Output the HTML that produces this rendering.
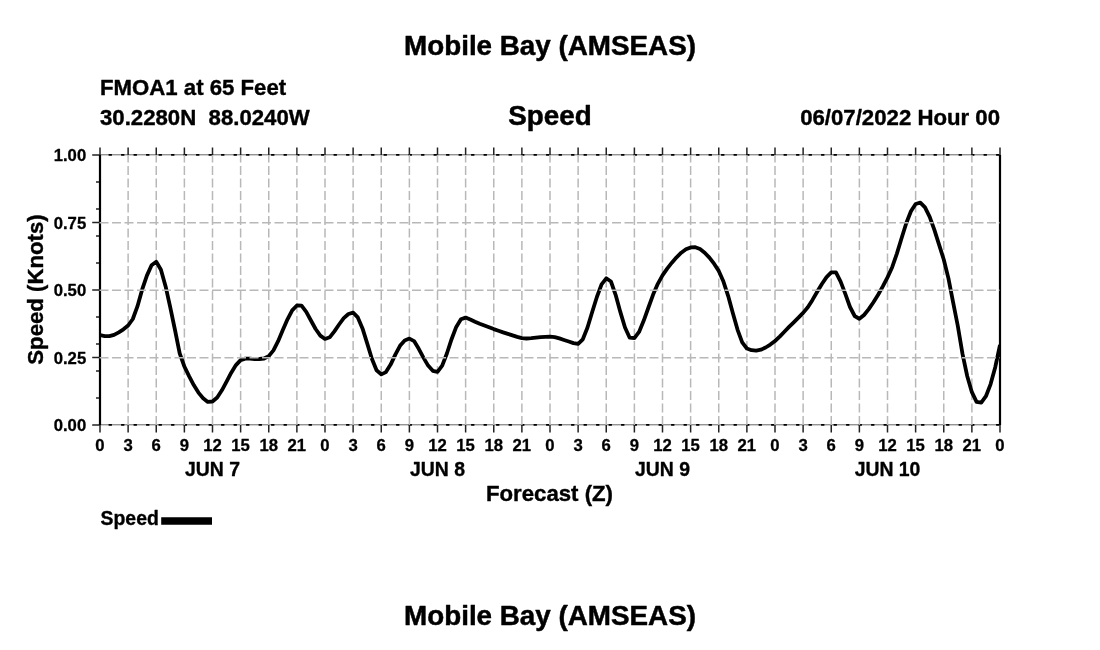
<!DOCTYPE html>
<html><head><meta charset="utf-8"><title>Mobile Bay (AMSEAS)</title>
<style>
html,body{margin:0;padding:0;background:#fff;}
svg{display:block;}
text{font-family:"Liberation Sans",sans-serif;font-weight:bold;fill:#000;stroke:#000;stroke-width:0.018em;stroke-linejoin:round;}
</style></head><body>
<svg width="1100" height="650" viewBox="0 0 1100 650">
<rect width="1100" height="650" fill="#fff"/>
<text x="550" y="55" font-size="27.8" text-anchor="middle">Mobile Bay (AMSEAS)</text>
<text x="550" y="624.7" font-size="27.8" text-anchor="middle">Mobile Bay (AMSEAS)</text>
<text x="100" y="94.5" font-size="22.2">FMOA1 at 65 Feet</text>
<text x="100" y="124.5" font-size="22.2" xml:space="preserve" style="white-space:pre">30.2280N  88.0240W</text>
<text x="550" y="124.5" font-size="27.8" text-anchor="middle">Speed</text>
<text x="1000" y="124.5" font-size="22.2" text-anchor="end">06/07/2022 Hour 00</text>
<line x1="100" y1="154.8" x2="1000" y2="154.8" stroke="#666" stroke-width="1"/>
<line x1="100" y1="424.8" x2="1000" y2="424.8" stroke="#666" stroke-width="1"/>
<line x1="108.6" y1="154.9" x2="1000" y2="154.9" stroke="#000" stroke-width="1.8" stroke-dasharray="3.3,9.2"/>
<line x1="108.6" y1="424.9" x2="1000" y2="424.9" stroke="#000" stroke-width="1.8" stroke-dasharray="3.3,9.2"/>
<g stroke="#222" stroke-width="1.5" fill="none"><line x1="100.00" y1="425" x2="100.00" y2="432.5"/><line x1="100.00" y1="155" x2="100.00" y2="147.5"/><line x1="128.12" y1="425" x2="128.12" y2="432.5"/><line x1="128.12" y1="155" x2="128.12" y2="147.5"/><line x1="156.25" y1="425" x2="156.25" y2="432.5"/><line x1="156.25" y1="155" x2="156.25" y2="147.5"/><line x1="184.38" y1="425" x2="184.38" y2="432.5"/><line x1="184.38" y1="155" x2="184.38" y2="147.5"/><line x1="212.50" y1="425" x2="212.50" y2="432.5"/><line x1="212.50" y1="155" x2="212.50" y2="147.5"/><line x1="240.62" y1="425" x2="240.62" y2="432.5"/><line x1="240.62" y1="155" x2="240.62" y2="147.5"/><line x1="268.75" y1="425" x2="268.75" y2="432.5"/><line x1="268.75" y1="155" x2="268.75" y2="147.5"/><line x1="296.88" y1="425" x2="296.88" y2="432.5"/><line x1="296.88" y1="155" x2="296.88" y2="147.5"/><line x1="325.00" y1="425" x2="325.00" y2="432.5"/><line x1="325.00" y1="155" x2="325.00" y2="147.5"/><line x1="353.12" y1="425" x2="353.12" y2="432.5"/><line x1="353.12" y1="155" x2="353.12" y2="147.5"/><line x1="381.25" y1="425" x2="381.25" y2="432.5"/><line x1="381.25" y1="155" x2="381.25" y2="147.5"/><line x1="409.38" y1="425" x2="409.38" y2="432.5"/><line x1="409.38" y1="155" x2="409.38" y2="147.5"/><line x1="437.50" y1="425" x2="437.50" y2="432.5"/><line x1="437.50" y1="155" x2="437.50" y2="147.5"/><line x1="465.62" y1="425" x2="465.62" y2="432.5"/><line x1="465.62" y1="155" x2="465.62" y2="147.5"/><line x1="493.75" y1="425" x2="493.75" y2="432.5"/><line x1="493.75" y1="155" x2="493.75" y2="147.5"/><line x1="521.88" y1="425" x2="521.88" y2="432.5"/><line x1="521.88" y1="155" x2="521.88" y2="147.5"/><line x1="550.00" y1="425" x2="550.00" y2="432.5"/><line x1="550.00" y1="155" x2="550.00" y2="147.5"/><line x1="578.12" y1="425" x2="578.12" y2="432.5"/><line x1="578.12" y1="155" x2="578.12" y2="147.5"/><line x1="606.25" y1="425" x2="606.25" y2="432.5"/><line x1="606.25" y1="155" x2="606.25" y2="147.5"/><line x1="634.38" y1="425" x2="634.38" y2="432.5"/><line x1="634.38" y1="155" x2="634.38" y2="147.5"/><line x1="662.50" y1="425" x2="662.50" y2="432.5"/><line x1="662.50" y1="155" x2="662.50" y2="147.5"/><line x1="690.62" y1="425" x2="690.62" y2="432.5"/><line x1="690.62" y1="155" x2="690.62" y2="147.5"/><line x1="718.75" y1="425" x2="718.75" y2="432.5"/><line x1="718.75" y1="155" x2="718.75" y2="147.5"/><line x1="746.88" y1="425" x2="746.88" y2="432.5"/><line x1="746.88" y1="155" x2="746.88" y2="147.5"/><line x1="775.00" y1="425" x2="775.00" y2="432.5"/><line x1="775.00" y1="155" x2="775.00" y2="147.5"/><line x1="803.12" y1="425" x2="803.12" y2="432.5"/><line x1="803.12" y1="155" x2="803.12" y2="147.5"/><line x1="831.25" y1="425" x2="831.25" y2="432.5"/><line x1="831.25" y1="155" x2="831.25" y2="147.5"/><line x1="859.38" y1="425" x2="859.38" y2="432.5"/><line x1="859.38" y1="155" x2="859.38" y2="147.5"/><line x1="887.50" y1="425" x2="887.50" y2="432.5"/><line x1="887.50" y1="155" x2="887.50" y2="147.5"/><line x1="915.62" y1="425" x2="915.62" y2="432.5"/><line x1="915.62" y1="155" x2="915.62" y2="147.5"/><line x1="943.75" y1="425" x2="943.75" y2="432.5"/><line x1="943.75" y1="155" x2="943.75" y2="147.5"/><line x1="971.88" y1="425" x2="971.88" y2="432.5"/><line x1="971.88" y1="155" x2="971.88" y2="147.5"/><line x1="1000.00" y1="425" x2="1000.00" y2="432.5"/><line x1="1000.00" y1="155" x2="1000.00" y2="147.5"/><line x1="92.2" y1="425.00" x2="100" y2="425.00"/><line x1="92.2" y1="357.50" x2="100" y2="357.50"/><line x1="92.2" y1="290.00" x2="100" y2="290.00"/><line x1="92.2" y1="222.50" x2="100" y2="222.50"/><line x1="92.2" y1="155.00" x2="100" y2="155.00"/></g>
<g stroke="#222" stroke-width="1.5" fill="none"><line x1="96" y1="398.00" x2="100" y2="398.00"/><line x1="96" y1="371.00" x2="100" y2="371.00"/><line x1="96" y1="344.00" x2="100" y2="344.00"/><line x1="96" y1="317.00" x2="100" y2="317.00"/><line x1="96" y1="263.00" x2="100" y2="263.00"/><line x1="96" y1="236.00" x2="100" y2="236.00"/><line x1="96" y1="209.00" x2="100" y2="209.00"/><line x1="96" y1="182.00" x2="100" y2="182.00"/></g>
<line x1="100" y1="155" x2="100" y2="425" stroke="#000" stroke-width="2.2"/>
<line x1="1000" y1="155" x2="1000" y2="425" stroke="#000" stroke-width="2.2"/>
<g stroke="#b8b8b8" stroke-width="1.5" stroke-dasharray="9,3.5" fill="none"><line x1="128.12" y1="425" x2="128.12" y2="155"/><line x1="156.25" y1="425" x2="156.25" y2="155"/><line x1="184.38" y1="425" x2="184.38" y2="155"/><line x1="212.50" y1="425" x2="212.50" y2="155"/><line x1="240.62" y1="425" x2="240.62" y2="155"/><line x1="268.75" y1="425" x2="268.75" y2="155"/><line x1="296.88" y1="425" x2="296.88" y2="155"/><line x1="325.00" y1="425" x2="325.00" y2="155"/><line x1="353.12" y1="425" x2="353.12" y2="155"/><line x1="381.25" y1="425" x2="381.25" y2="155"/><line x1="409.38" y1="425" x2="409.38" y2="155"/><line x1="437.50" y1="425" x2="437.50" y2="155"/><line x1="465.62" y1="425" x2="465.62" y2="155"/><line x1="493.75" y1="425" x2="493.75" y2="155"/><line x1="521.88" y1="425" x2="521.88" y2="155"/><line x1="550.00" y1="425" x2="550.00" y2="155"/><line x1="578.12" y1="425" x2="578.12" y2="155"/><line x1="606.25" y1="425" x2="606.25" y2="155"/><line x1="634.38" y1="425" x2="634.38" y2="155"/><line x1="662.50" y1="425" x2="662.50" y2="155"/><line x1="690.62" y1="425" x2="690.62" y2="155"/><line x1="718.75" y1="425" x2="718.75" y2="155"/><line x1="746.88" y1="425" x2="746.88" y2="155"/><line x1="775.00" y1="425" x2="775.00" y2="155"/><line x1="803.12" y1="425" x2="803.12" y2="155"/><line x1="831.25" y1="425" x2="831.25" y2="155"/><line x1="859.38" y1="425" x2="859.38" y2="155"/><line x1="887.50" y1="425" x2="887.50" y2="155"/><line x1="915.62" y1="425" x2="915.62" y2="155"/><line x1="943.75" y1="425" x2="943.75" y2="155"/><line x1="971.88" y1="425" x2="971.88" y2="155"/></g>
<clipPath id="pc"><rect x="100" y="155" width="900" height="270"/></clipPath>
<path clip-path="url(#pc)" d="M100.00,335.0 L104.69,336.2 L109.38,336.2 L114.06,334.9 L118.75,332.3 L123.44,329.3 L128.12,325.5 L132.81,319.0 L137.50,306.2 L142.19,289.4 L146.88,275.6 L151.56,265.3 L156.25,261.8 L160.94,269.8 L165.62,286.4 L170.31,307.6 L175.00,330.0 L179.69,353.4 L184.38,366.5 L189.06,376.2 L193.75,385.1 L198.44,392.6 L203.12,398.2 L207.81,401.9 L212.50,401.5 L217.19,397.5 L221.88,390.3 L226.56,381.6 L231.25,372.7 L235.94,365.1 L240.62,360.1 L245.31,358.6 L250.00,358.7 L254.69,359.2 L259.38,359.0 L264.06,358.5 L268.75,356.1 L273.44,350.4 L278.12,341.2 L282.81,330.1 L287.50,319.3 L292.19,310.3 L296.88,305.5 L301.56,305.7 L306.25,311.9 L310.94,320.5 L315.62,329.0 L320.31,335.6 L325.00,339.0 L329.69,337.3 L334.38,331.3 L339.06,324.5 L343.75,318.1 L348.44,314.0 L353.12,312.6 L357.81,317.4 L362.50,328.4 L367.19,343.4 L371.88,358.7 L376.56,370.3 L381.25,374.4 L385.94,372.1 L390.62,364.6 L395.31,354.6 L400.00,345.8 L404.69,340.4 L409.38,338.6 L414.06,341.1 L418.75,348.8 L423.44,357.6 L428.12,365.6 L432.81,370.8 L437.50,371.8 L442.19,365.6 L446.88,353.5 L451.56,339.2 L456.25,326.9 L460.94,319.3 L465.62,317.6 L470.31,319.5 L475.00,321.7 L479.69,323.7 L484.38,325.5 L489.06,327.3 L493.75,329.1 L498.44,330.7 L503.12,332.4 L507.81,333.9 L512.50,335.4 L517.19,336.9 L521.88,338.1 L526.56,338.5 L531.25,338.2 L535.94,337.7 L540.62,337.1 L545.31,336.8 L550.00,336.6 L554.69,337.1 L559.38,338.4 L564.06,340.0 L568.75,341.5 L573.44,343.1 L578.12,343.9 L582.81,339.3 L587.50,327.5 L592.19,312.0 L596.88,297.0 L601.56,284.3 L606.25,278.3 L610.94,281.5 L615.62,294.8 L620.31,311.9 L625.00,327.5 L629.69,337.7 L634.38,338.2 L639.06,331.9 L643.75,320.6 L648.44,307.5 L653.12,294.6 L657.81,283.8 L662.50,275.3 L667.19,268.7 L671.88,262.7 L676.56,257.3 L681.25,252.7 L685.94,249.3 L690.62,247.4 L695.31,247.2 L700.00,249.0 L704.69,252.7 L709.38,257.6 L714.06,263.7 L718.75,270.9 L723.44,281.6 L728.12,295.8 L732.81,313.0 L737.50,329.6 L742.19,342.4 L746.88,348.5 L751.56,350.2 L756.25,350.6 L760.94,349.7 L765.62,347.5 L770.31,344.6 L775.00,341.0 L779.69,336.6 L784.38,331.7 L789.06,326.9 L793.75,322.3 L798.44,317.7 L803.12,312.9 L807.81,307.3 L812.50,299.9 L817.19,291.8 L821.88,284.0 L826.56,277.1 L831.25,272.4 L835.94,272.4 L840.62,281.6 L845.31,293.9 L850.00,307.0 L854.69,316.0 L859.38,318.8 L864.06,315.0 L868.75,309.1 L873.44,302.2 L878.12,294.7 L882.81,286.4 L887.50,277.4 L892.19,267.2 L896.88,253.6 L901.56,238.2 L906.25,223.3 L910.94,211.3 L915.62,204.0 L920.31,202.7 L925.00,207.4 L929.69,216.9 L934.38,229.9 L939.06,244.6 L943.75,259.5 L948.44,278.4 L953.12,302.4 L957.81,326.0 L962.50,353.9 L967.19,376.0 L971.88,392.2 L976.56,401.8 L981.25,402.7 L985.94,396.2 L990.62,384.1 L995.31,366.9 L1000.00,345.0" fill="none" stroke="#000" stroke-width="3.8" stroke-linejoin="round" stroke-linecap="butt"/>
<g stroke="#b8b8b8" stroke-width="1.5" stroke-dasharray="9,3.5" fill="none"><line x1="99.5" y1="357.75" x2="1000" y2="357.75"/><line x1="99.5" y1="290.25" x2="1000" y2="290.25"/><line x1="99.5" y1="222.75" x2="1000" y2="222.75"/></g>
<g font-size="16.7" text-anchor="middle" stroke-width="0.22"><text x="100.00" y="451">0</text><text x="128.12" y="451">3</text><text x="156.25" y="451">6</text><text x="184.38" y="451">9</text><text x="212.50" y="451">12</text><text x="240.62" y="451">15</text><text x="268.75" y="451">18</text><text x="296.88" y="451">21</text><text x="325.00" y="451">0</text><text x="353.12" y="451">3</text><text x="381.25" y="451">6</text><text x="409.38" y="451">9</text><text x="437.50" y="451">12</text><text x="465.62" y="451">15</text><text x="493.75" y="451">18</text><text x="521.88" y="451">21</text><text x="550.00" y="451">0</text><text x="578.12" y="451">3</text><text x="606.25" y="451">6</text><text x="634.38" y="451">9</text><text x="662.50" y="451">12</text><text x="690.62" y="451">15</text><text x="718.75" y="451">18</text><text x="746.88" y="451">21</text><text x="775.00" y="451">0</text><text x="803.12" y="451">3</text><text x="831.25" y="451">6</text><text x="859.38" y="451">9</text><text x="887.50" y="451">12</text><text x="915.62" y="451">15</text><text x="943.75" y="451">18</text><text x="971.88" y="451">21</text><text x="1000.00" y="451">0</text></g>
<g font-size="16.7" text-anchor="end" stroke-width="0.22"><text x="86.2" y="431.00">0.00</text><text x="86.2" y="363.50">0.25</text><text x="86.2" y="296.00">0.50</text><text x="86.2" y="228.50">0.75</text><text x="86.2" y="161.00">1.00</text></g>
<g font-size="19.4" text-anchor="middle"><text x="212.50" y="475.5">JUN 7</text><text x="437.50" y="475.5">JUN 8</text><text x="662.50" y="475.5">JUN 9</text><text x="887.50" y="475.5">JUN 10</text></g>
<text x="549.5" y="501" font-size="22.2" text-anchor="middle">Forecast (Z)</text>
<text transform="translate(42.7,289.5) rotate(-90)" font-size="22.2" text-anchor="middle">Speed (Knots)</text>
<text x="100.6" y="525" font-size="19.4">Speed</text>
<line x1="161.2" y1="521" x2="212" y2="521" stroke="#000" stroke-width="7.7"/>
</svg>
</body></html>
